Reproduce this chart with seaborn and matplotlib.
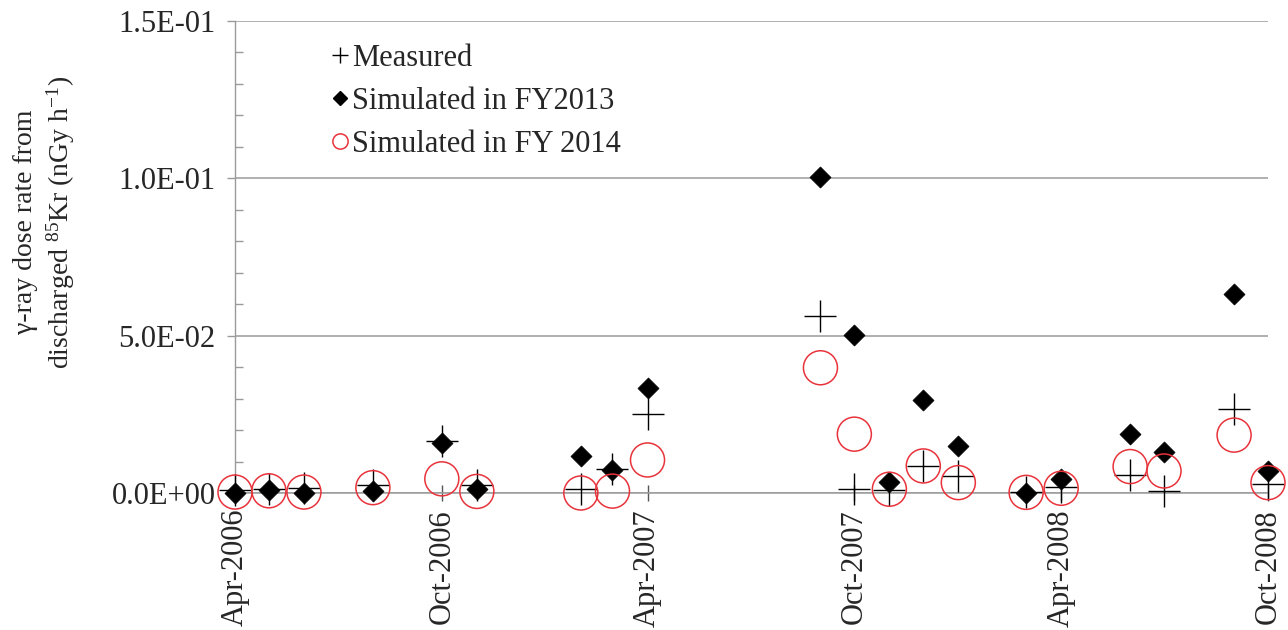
import numpy as np
import pandas as pd
import matplotlib
matplotlib.use("Agg")
import matplotlib.pyplot as plt
import matplotlib.dates as mdates
from matplotlib.lines import Line2D
from matplotlib.ticker import MultipleLocator, FuncFormatter
import seaborn as sns

# ---- data -------------------------------------------------------------
months = ["2006-04", "2006-05", "2006-06", "2006-08", "2006-10", "2006-11",
          "2007-02", "2007-03", "2007-04", "2007-09", "2007-10", "2007-11",
          "2007-12", "2008-01", "2008-03", "2008-04", "2008-06", "2008-07",
          "2008-09", "2008-10"]
measured = [0.0010, 0.0012, 0.0015, 0.0024, 0.0164, 0.0026, 0.0014, 0.0077,
            0.0250, 0.0563, 0.0012, 0.0010, 0.0086, 0.0054, 0.0004, 0.0018,
            0.0057, 0.0006, 0.0266, 0.0028]
sim_fy2013 = [0.0000, 0.0008, 0.0000, 0.0005, 0.0158, 0.0014, 0.0116, 0.0074,
              0.0335, 0.1005, 0.0502, 0.0036, 0.0294, 0.0149, 0.0000, 0.0043,
              0.0186, 0.0129, 0.0634, 0.0069]
sim_fy2014 = [0.0003, 0.0007, 0.0003, 0.0017, 0.0045, 0.0005, 0.0000, 0.0006,
              0.0105, 0.0398, 0.0187, 0.0012, 0.0086, 0.0033, 0.0002, 0.0015,
              0.0084, 0.0070, 0.0184, 0.0033]
series_names = ["Measured", "Simulated in FY2013", "Simulated in FY 2014"]
y_ticks = [0.0, 0.05, 0.10, 0.15]
x_tick_months = ["2006-04", "2006-10", "2007-04", "2007-10", "2008-04", "2008-10"]

dates = pd.to_datetime(months)
df_meas = pd.DataFrame({"date": dates, "value": measured})
df_13 = pd.DataFrame({"date": dates, "value": sim_fy2013})
df_14 = pd.DataFrame({"date": dates, "value": sim_fy2014})

# ---- style ------------------------------------------------------------
sns.set_theme(style="white")
plt.rcParams["font.family"] = ["Liberation Serif", "DejaVu Serif"]
plt.rcParams["mathtext.fontset"] = "custom"
plt.rcParams["mathtext.rm"] = "Liberation Serif"
plt.rcParams["mathtext.it"] = "Liberation Serif:italic"
plt.rcParams["axes.unicode_minus"] = False

GRID = "#9a9a9a"
RED = "#e8333b"

fig = plt.figure(figsize=(12.88, 6.30), dpi=100)
ax = fig.add_axes([235 / 1288, 137 / 630, (1268 - 235) / 1288, (493 - 21) / 630])

# ---- marks -------------------------------------------------------------
sns.scatterplot(data=df_meas, x="date", y="value", marker="+", s=560,
                color="black", linewidth=1.0, ax=ax, clip_on=False, zorder=3)
sns.scatterplot(data=df_13, x="date", y="value", marker="D", s=115,
                color="black", edgecolor="black", linewidth=0.5, ax=ax,
                clip_on=False, zorder=4)
sns.scatterplot(data=df_14, x="date", y="value", marker="o", s=600,
                color=RED, ax=ax, clip_on=False, zorder=5)
coll = ax.collections[-1]
coll.set_facecolor("none")
coll.set_edgecolor(RED)
coll.set_linewidth(1.1)

# ---- axes --------------------------------------------------------------
ax.set_xlim(pd.Timestamp("2006-04-01"), pd.Timestamp("2008-10-01"))
ax.set_ylim(0, 0.15)
ax.set_yticks(y_ticks)
ax.yaxis.set_major_formatter(FuncFormatter(lambda v, p: f"{v:.1E}"))
ax.yaxis.set_minor_locator(MultipleLocator(0.01))
ax.set_xticks(pd.to_datetime(x_tick_months))
ax.xaxis.set_major_formatter(mdates.DateFormatter("%b-%Y"))
ax.grid(axis="y", color=GRID, linewidth=1.1)
ax.set_axisbelow(True)

for s in ["top", "right"]:
    ax.spines[s].set_visible(False)
ax.spines["left"].set_color(GRID)
ax.spines["left"].set_linewidth(1.0)
ax.spines["bottom"].set_color(GRID)
ax.spines["bottom"].set_linewidth(1.1)

ax.tick_params(axis="y", which="major", direction="out", length=6, width=1.0,
               color=GRID, labelsize=22, pad=8, left=True)
ax.tick_params(axis="y", which="minor", direction="in", length=6, width=1.0,
               color=GRID, left=True)
ax.tick_params(axis="x", which="major", direction="inout", length=11, width=1.0,
               color="#555555", labelsize=22, pad=6, bottom=True)
for lab in ax.get_xticklabels():
    lab.set_rotation(90)

ax.set_xlabel("")
ax.set_ylabel("\u03b3-ray dose rate from\ndischarged $^{85}$Kr (nGy h$^{-1}$)",
              fontsize=20, linespacing=1.25)
ax.yaxis.label.set_horizontalalignment("center")
ax.yaxis.label.set_verticalalignment("center")
ax.yaxis.set_label_coords((45 - 235) / 1033, (493 - 222) / 472)

# ---- legend ------------------------------------------------------------
handles = [
    Line2D([], [], marker="+", linestyle="none", color="black", markersize=11,
           markeredgewidth=1.0),
    Line2D([], [], marker="D", linestyle="none", color="black", markersize=7.5),
    Line2D([], [], marker="o", linestyle="none", markerfacecolor="none",
           markeredgecolor=RED, markersize=11, markeredgewidth=1.1),
]
fig.legend(handles, series_names, loc="upper left",
           bbox_to_anchor=(332 / 1288, 1 - 44 / 630), frameon=False,
           fontsize=22, handlelength=0.5, handletextpad=0.15,
           labelspacing=0.45, borderpad=0, borderaxespad=0)

fig.savefig("out.png", dpi=100)
